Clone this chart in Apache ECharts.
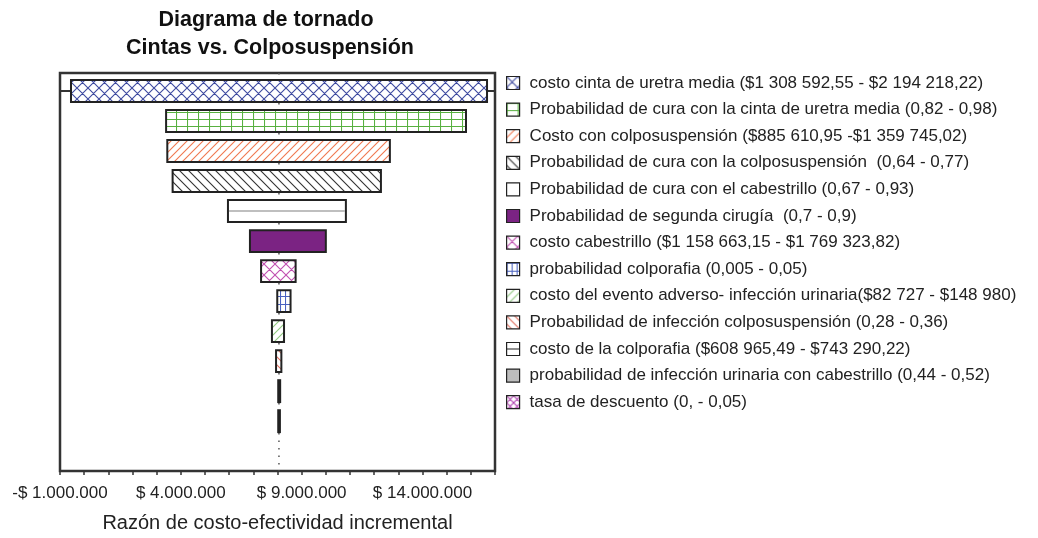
<!DOCTYPE html>
<html><head><meta charset="utf-8">
<script src="https://cdn.jsdelivr.net/npm/echarts@6/dist/echarts.min.js"></script>
<style>html,body{margin:0;padding:0;background:#fff}#c{width:1038px;height:538px}</style>
</head><body><div id="c"></div>
<script>
// ---- data ----
const categories = [
  'costo cinta de uretra media ($1 308 592,55 - $2 194 218,22)',
  'Probabilidad de cura con la cinta de uretra media (0,82 - 0,98)',
  'Costo con colposuspensión ($885 610,95 -$1 359 745,02)',
  'Probabilidad de cura con la colposuspensión  (0,64 - 0,77)',
  'Probabilidad de cura con el cabestrillo (0,67 - 0,93)',
  'Probabilidad de segunda cirugía  (0,7 - 0,9)',
  'costo cabestrillo ($1 158 663,15 - $1 769 323,82)',
  'probabilidad colporafia (0,005 - 0,05)',
  'costo del evento adverso- infección urinaria($82 727 - $148 980)',
  'Probabilidad de infección colposuspensión (0,28 - 0,36)',
  'costo de la colporafia ($608 965,49 - $743 290,22)',
  'probabilidad de infección urinaria con cabestrillo (0,44 - 0,52)',
  'tasa de descuento (0, - 0,05)'
];
const lowValues  = [-545000, 3390000, 3440000, 3660000, 5950000, 6860000, 7320000, 7990000, 7770000, 7940000, 8030000, 8030000, 8060000];
const highValues = [16670000, 15800000, 12650000, 12280000, 10830000, 10000000, 8750000, 8540000, 8270000, 8160000, 8110000, 8100000, 8060000];
const baseICER = 8060000;
const tickValues = [-1000000, 4000000, 9000000, 14000000];
const tickLabels = ['-$ 1.000.000', '$ 4.000.000', '$ 9.000.000', '$ 14.000.000'];
const xMin = -1000000, xMax = 17000000;
const yMin = -0.6, yMax = 12.66;

// ---- styles ----
function makePattern(kind, color, w, h, bg) {
  const c = document.createElement('canvas');
  c.width = w; c.height = h;
  const g = c.getContext('2d');
  g.fillStyle = bg || '#ffffff';
  g.fillRect(0, 0, w, h);
  g.strokeStyle = color; g.lineWidth = 1.1;
  g.beginPath();
  if (kind === 'cross' || kind === 'fwd') {
    g.moveTo(-1, h + 1); g.lineTo(w + 1, -1);
    g.moveTo(-1, 1); g.lineTo(1, -1);
    g.moveTo(w - 1, h + 1); g.lineTo(w + 1, h - 1);
  }
  if (kind === 'cross' || kind === 'back') {
    g.moveTo(-1, -1); g.lineTo(w + 1, h + 1);
    g.moveTo(w - 1, -1); g.lineTo(w + 1, 1);
    g.moveTo(-1, h - 1); g.lineTo(1, h + 1);
  }
  if (kind === 'grid') {
    g.moveTo(0.5, 0); g.lineTo(0.5, h);
    g.moveTo(0, 0.5); g.lineTo(w, 0.5);
  }
  g.stroke();
  return { image: c, repeat: 'repeat' };
}
const fills = [
  makePattern('cross', '#3e4aa0', 11, 11),
  makePattern('grid', '#58b040', 11, 7),
  makePattern('fwd', '#f07850', 8, 8),
  makePattern('back', '#333333', 9, 9),
  '#ffffff',
  '#7b2383',
  makePattern('cross', '#c050b0', 11, 11),
  makePattern('grid', '#4a62c0', 5, 8),
  makePattern('fwd', '#90c880', 8, 8),
  makePattern('back', '#e07060', 8, 8),
  '#ffffff',
  '#bdbdbd',
  makePattern('cross', '#b040b0', 7, 7)
];
const midLines = [null, null, null, null, '#aaaaaa', null, null, null, null, null, '#222222', null, null];
const barThickness = 0.73;

const series = categories.map((name, i) => ({
  type: 'custom',
  name: name,
  itemStyle: { color: fills[i], borderColor: '#222', borderWidth: 1.2 },
  encode: { x: [0, 1], y: 2 },
  data: [[lowValues[i], highValues[i], i]],
  renderItem: (params, api) => {
    const lo = api.value(0), hi = api.value(1), k = api.value(2);
    if (!(hi > lo)) return null;
    const p0 = api.coord([lo, k]);
    const p1 = api.coord([hi, k]);
    const h = api.size([0, barThickness])[1];
    const children = [{
      type: 'rect',
      shape: { x: p0[0], y: p0[1] - h / 2, width: p1[0] - p0[0], height: h },
      style: { fill: fills[i], stroke: '#222', lineWidth: 2 }
    }];
    if (midLines[i]) {
      children.push({
        type: 'line',
        shape: { x1: p0[0] + 1, y1: p0[1], x2: p1[0] - 1, y2: p0[1] },
        style: { stroke: midLines[i], lineWidth: 1.5 }
      });
    }
    return { type: 'group', children: children };
  }
}));

series.push({
  type: 'line',
  name: 'base',
  data: [[baseICER, yMin], [baseICER, yMax]],
  symbol: 'none',
  silent: true,
  z: 1,
  lineStyle: { color: '#555', width: 1.5, type: [1.5, 6] }
});

const legendData = categories.map((name, i) => {
  const d = { name: name, itemStyle: { color: fills[i], borderColor: '#222', borderWidth: 1.2 } };
  if (i === 10) d.icon = 'path://M0 0H12V12H0Z M0 6H12';
  return d;
});

const font = 'Liberation Sans, Arial, sans-serif';
const chart = echarts.init(document.getElementById('c'));
chart.setOption({
  animation: false,
  backgroundColor: '#fff',
  textStyle: { fontFamily: font },
  title: [
    { text: 'Diagrama de tornado', left: 266, top: 9, textAlign: 'center', padding: 0,
      textStyle: { fontSize: 21.5, fontWeight: 'bold', color: '#111', fontFamily: font } },
    { text: 'Cintas vs. Colposuspensión', left: 270, top: 37, textAlign: 'center', padding: 0,
      textStyle: { fontSize: 21.5, fontWeight: 'bold', color: '#111', fontFamily: font } }
  ],
  legend: {
    orient: 'vertical', left: 506, top: 74, padding: 0,
    itemWidth: 13, itemHeight: 13, itemGap: 8.6,
    icon: 'rect',
    selectedMode: false,
    textStyle: { fontSize: 17, color: '#222', lineHeight: 18, fontFamily: font, padding: [0, 0, 0, 5] },
    data: legendData
  },
  grid: { left: 60, right: 543, top: 73, height: 399, show: true, borderColor: '#333', borderWidth: 2.5, containLabel: false },
  xAxis: [
    {
      type: 'value', min: xMin, max: xMax, position: 'bottom',
      splitLine: { show: false },
      axisLine: { show: true, lineStyle: { color: '#333', width: 2 } },
      axisTick: { show: true, customValues: tickValues, length: 7, lineStyle: { color: '#333', width: 1.5 } },
      axisLabel: {
        customValues: tickValues, margin: 14, fontSize: 17, color: '#222', fontFamily: font,
        formatter: (v) => { const j = tickValues.indexOf(v); return j >= 0 ? tickLabels[j] : ''; }
      },
      name: 'Razón de costo-efectividad incremental', nameLocation: 'middle', nameGap: 42,
      nameTextStyle: { fontSize: 20, color: '#222', fontFamily: font }
    },
    {
      type: 'value', min: xMin, max: xMax, interval: 1000000, position: 'bottom',
      splitLine: { show: false },
      axisLine: { show: false },
      axisTick: { show: true, length: 4, lineStyle: { color: '#333', width: 1.5 } },
      axisLabel: { show: false }
    }
  ],
  yAxis: { type: 'value', min: yMin, max: yMax, inverse: true, show: false, splitLine: { show: false } },
  series: series
});
</script></body></html>
